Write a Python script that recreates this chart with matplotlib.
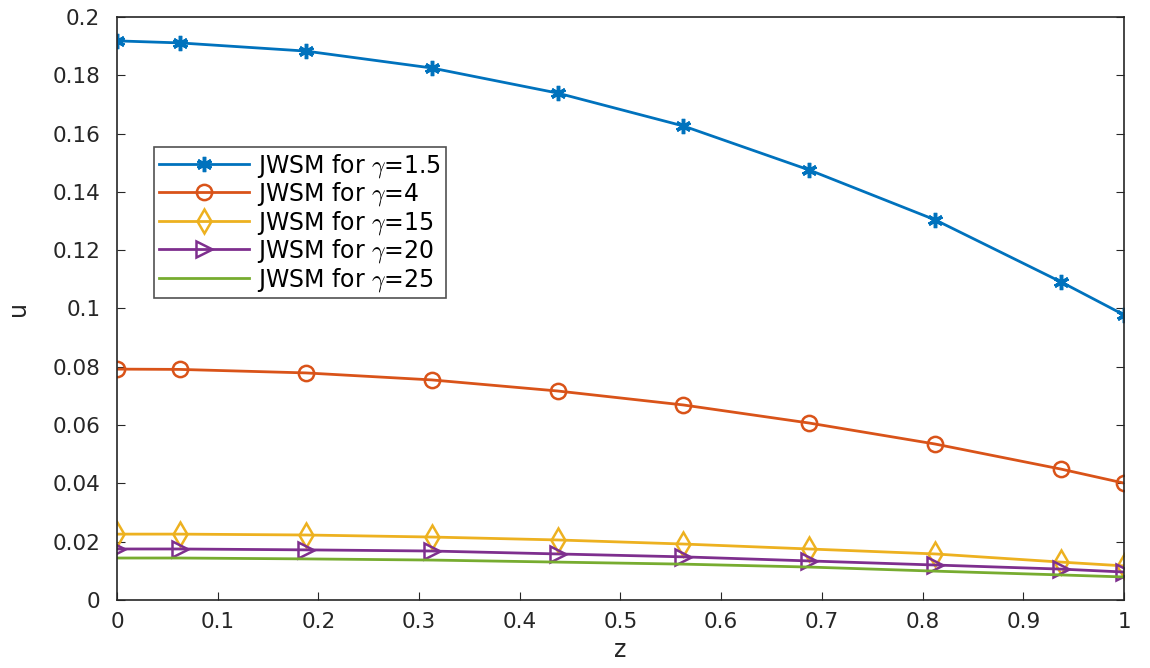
import numpy as np
import matplotlib.pyplot as plt

plt.rcParams['font.family'] = ['DejaVu Sans']
plt.rcParams['mathtext.fontset'] = 'cm'

z = [0, 0.0625, 0.1875, 0.3125, 0.4375, 0.5625, 0.6875, 0.8125, 0.9375, 1.0]

u_g15 = [0.1918, 0.1911, 0.1883, 0.1825, 0.1739, 0.1626, 0.1475, 0.1304, 0.1091, 0.0978]
u_g4 = [0.0792, 0.0791, 0.0779, 0.0755, 0.0717, 0.0669, 0.0607, 0.0535, 0.0449, 0.0401]
u_g15b = [0.0226, 0.0226, 0.0223, 0.0216, 0.0206, 0.0192, 0.0175, 0.0158, 0.0130, 0.0117]
u_g20 = [0.0175, 0.0175, 0.0172, 0.0168, 0.0158, 0.0148, 0.0134, 0.0120, 0.0106, 0.0096]
u_g25 = [0.0144, 0.0144, 0.0141, 0.0137, 0.0130, 0.0123, 0.0113, 0.0099, 0.0086, 0.0079]

labels = ['JWSM for $\\gamma$=1.5', 'JWSM for $\\gamma$=4', 'JWSM for $\\gamma$=15',
          'JWSM for $\\gamma$=20', 'JWSM for $\\gamma$=25']

fig = plt.figure(figsize=(11.5, 6.68), dpi=100)
ax = fig.add_axes([0.1017, 0.1018, 0.8757, 0.8728])

# asterisco tipo MATLAB
ax.plot(z, u_g15, color='#0072BD', marker=(6, 2, 0), ms=11, mew=2.5, lw=2, label=labels[0])
ax.plot(z, u_g4, color='#D95319', marker='o', ms=11, mfc='none', mew=1.8, lw=2, label=labels[1])
ax.plot(z, u_g15b, color='#EDB120', marker='d', ms=12, mfc='none', mew=1.8, lw=2, label=labels[2])
ax.plot(z, u_g20, color='#7E2F8E', marker='>', ms=11, mfc='none', mew=1.8, lw=2, label=labels[3])
ax.plot(z, u_g25, color='#77AC30', lw=2, label=labels[4])

ax.set_xlim(0, 1)
ax.set_ylim(0, 0.2)
ax.set_xticks(np.arange(0, 1.01, 0.1))
ax.set_xticklabels(['0', '0.1', '0.2', '0.3', '0.4', '0.5', '0.6', '0.7', '0.8', '0.9', '1'])
ax.set_yticks(np.arange(0, 0.201, 0.02))
ax.set_yticklabels(['0', '0.02', '0.04', '0.06', '0.08', '0.1', '0.12', '0.14', '0.16', '0.18', '0.2'])
ax.tick_params(direction='in', length=6, labelsize=15.5, colors='#262626', top=False, right=True)
ax.tick_params(axis='x', pad=9)
ax.tick_params(axis='y', pad=12)
for s in ax.spines.values():
    s.set_color('#262626')
    s.set_linewidth(1.2)

ax.set_xlabel('z', fontsize=17, color='#262626', labelpad=4)
ax.set_ylabel('u', fontsize=17, color='#262626', labelpad=16)

leg = ax.legend(loc='upper left', bbox_to_anchor=(0.037, 0.777), fontsize=17,
                frameon=True, fancybox=False, edgecolor='#262626', handlelength=3.8,
                borderpad=0.2, labelspacing=0.02, handletextpad=0.35, borderaxespad=0)
leg.get_frame().set_linewidth(1.2)

fig.savefig('out.png', dpi=100)
